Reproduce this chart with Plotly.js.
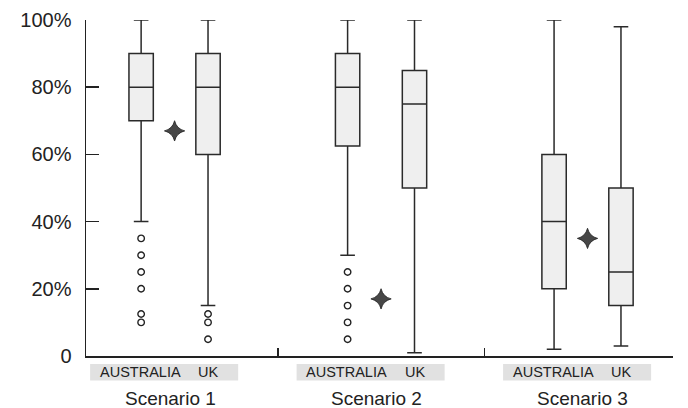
<!DOCTYPE html>
<html>
<head>
<meta charset="utf-8">
<script src="https://cdn.plot.ly/plotly-3.0.1.min.js"></script>
<style>html,body{margin:0;padding:0;background:#fff}#chart{width:688px;height:408px}</style>
</head>
<body>
<div id="chart"></div>
<script>
// ---- data ----
var scenarios = ["Scenario 1", "Scenario 2", "Scenario 3"];
var groupNames = ["AUSTRALIA", "UK"];
var ausLower  = [40, 30, 2];
var ausQ1     = [70, 62.5, 20];
var ausMedian = [80, 80, 40];
var ausQ3     = [90, 90, 60];
var ausUpper  = [100, 100, 100];
var ukLower   = [15, 1, 3];
var ukQ1      = [60, 50, 15];
var ukMedian  = [80, 75, 25];
var ukQ3      = [90, 85, 50];
var ukUpper   = [100, 100, 98];
var means     = [67, 17, 35];
var ausOutliers = [[35, 30, 25, 20, 12.5, 10], [25, 20, 15, 10, 5], []];
var ukOutliers  = [[12.5, 10, 5], [], []];
var yTickVals = [0, 20, 40, 60, 80, 100];
var yTickText = ["0", "20%", "40%", "60%", "80%", "100%"];

// ---- layout helpers ----
var FONT = "Liberation Sans, Arial, sans-serif";
var OFF = 0.162;
var centers = scenarios.map(function (_, i) { return i + 1; });
var ausX = centers.map(function (c) { return c - OFF; });
var ukX = centers.map(function (c) { return c + OFF; });

var boxStyle = {
  type: "box",
  fillcolor: "#efefef",
  line: { color: "#2a2a2a", width: 1.5 },
  width: 0.118,
  whiskerwidth: 0.6,
  boxpoints: false,
  hoverinfo: "skip",
  showlegend: false
};

function boxTrace(x, lo, q1, med, q3, hi) {
  return Object.assign({}, boxStyle, {
    x: x, q1: q1, median: med, q3: q3, lowerfence: lo, upperfence: hi
  });
}

var traces = [
  boxTrace(ausX, ausLower, ausQ1, ausMedian, ausQ3, ausUpper),
  boxTrace(ukX, ukLower, ukQ1, ukMedian, ukQ3, ukUpper)
];

function outlierTrace(xs, arrs) {
  var x = [], y = [];
  arrs.forEach(function (a, i) { a.forEach(function (v) { x.push(xs[i]); y.push(v); }); });
  return {
    type: "scatter", mode: "markers", x: x, y: y, showlegend: false, hoverinfo: "skip",
    marker: { symbol: "circle-open", size: 6.5, color: "#222", line: { width: 1.4, color: "#222" } }
  };
}
traces.push(outlierTrace(ausX, ausOutliers));
traces.push(outlierTrace(ukX, ukOutliers));
traces.push({
  type: "scatter", mode: "markers", x: centers, y: means, showlegend: false, hoverinfo: "skip",
  marker: { symbol: "star-diamond", size: 14.5, color: "#474747", line: { width: 0.8, color: "#222" } }
});

var shapes = [], annotations = [];
centers.forEach(function (c, i) {
  shapes.push({
    type: "rect", xref: "x", yref: "paper", layer: "below",
    x0: c - 0.409, x1: c + 0.308, y0: -0.073, y1: -0.024,
    fillcolor: "#e1e1e1", line: { width: 0 }
  });
  annotations.push({
    xref: "x", yref: "paper", x: c - 0.166, y: -0.049, text: groupNames[0], showarrow: false,
    font: { family: FONT, size: 14.5, color: "#222" },
    xanchor: "center", yanchor: "middle"
  });
  annotations.push({
    xref: "x", yref: "paper", x: c + 0.163, y: -0.049, text: groupNames[1], showarrow: false,
    font: { family: FONT, size: 14.5, color: "#222" },
    xanchor: "center", yanchor: "middle"
  });
  annotations.push({
    xref: "x", yref: "paper", x: c - 0.022, y: -0.125, text: scenarios[i], showarrow: false,
    font: { family: FONT, size: 19, color: "#222" },
    xanchor: "center", yanchor: "middle"
  });
});

var layout = {
  width: 688, height: 408,
  margin: { l: 86, r: 15, t: 20, b: 52 },
  paper_bgcolor: "#fff", plot_bgcolor: "#fff",
  showlegend: false,
  font: { family: FONT, size: 20, color: "#222" },
  xaxis: {
    range: [0.571, 3.414], showgrid: false, zeroline: false,
    showline: true, linecolor: "#222", linewidth: 1.5,
    tickmode: "array", tickvals: [1.5, 2.5, 3.412], ticks: "inside", ticklen: 8,
    tickwidth: 1.5, tickcolor: "#222", showticklabels: false
  },
  yaxis: {
    range: [0, 100], showgrid: false, zeroline: false,
    showline: true, linecolor: "#222", linewidth: 1.5,
    tickmode: "array", tickvals: yTickVals, ticktext: yTickText,
    ticks: "inside", ticklen: 13, tickwidth: 1.5, tickcolor: "#222",
    tickfont: { family: FONT, size: 20, color: "#222" }, ticklabelstandoff: 9
  },
  shapes: shapes,
  annotations: annotations
};

Plotly.newPlot("chart", traces, layout, { staticPlot: true, displayModeBar: false });
</script>
</body>
</html>
